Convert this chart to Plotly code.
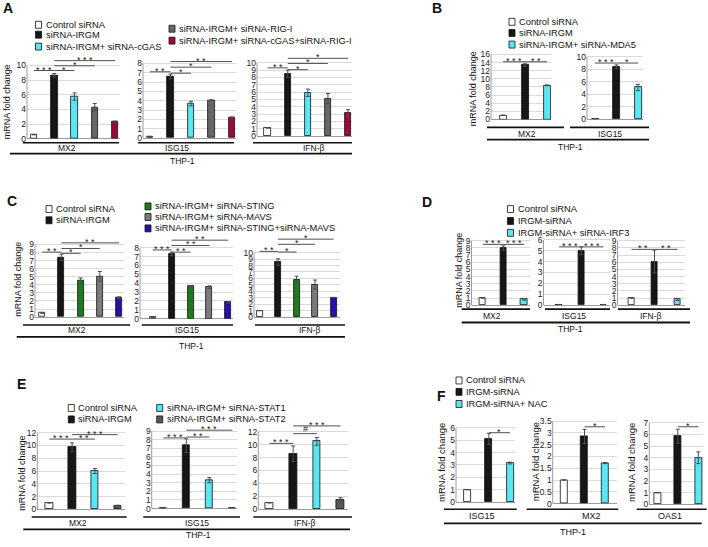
import plotly.graph_objects as go

W, H = 708, 547
FONT = "Arial, 'Liberation Sans', sans-serif"

WHITE, BLACK, CYAN = "#ffffff", "#161616", "#5ae6f3"
GREY, CRIMSON = "#666666", "#9c0b38"
GREEN, MGREY, INDIGO = "#1d7a1d", "#7b7b7b", "#2a0ea6"
DGREY = "#575757"

# ---------------- data ----------------
# A
A_labels = ["Control siRNA", "siRNA-IRGM", "siRNA-IRGM+ siRNA-cGAS",
            "siRNA-IRGM+ siRNA-RIG-I", "siRNA-IRGM+ siRNA-cGAS+siRNA-RIG-I"]
A_colors = [WHITE, BLACK, CYAN, GREY, CRIMSON]
A_genes = ["MX2", "ISG15", "IFN-β"]
A_mx2 = [0.55, 8.65, 5.75, 4.3, 2.35]
A_mx2_err = [0.02, 0.25, 0.5, 0.5, 0.05]
A_mx2_sig = [(0, 1, 9.3, "***"), (1, 2, 9.3, "*"), (1, 3, 9.95, "*"), (1, 4, 10.65, "***")]
A_isg = [0.1, 6.6, 3.7, 4.05, 2.2]
A_isg_err = [0.02, 0.25, 0.25, 0.05, 0.05]
A_isg_sig = [(0, 1, 7.1, "**"), (1, 2, 6.95, "*"), (1, 3, 7.6, "*"), (1, 4, 8.2, "**")]
A_ifn = [1.1, 8.5, 5.9, 5.1, 3.1]
A_ifn_err = [0.03, 0.5, 0.5, 0.7, 0.5]
A_ifn_sig = [(0, 1, 9.3, "**"), (1, 2, 9.05, "*"), (1, 3, 9.9, "*"), (1, 4, 10.6, "*")]

# B
B_labels = ["Control siRNA", "siRNA-IRGM", "siRNA-IRGM+ siRNA-MDA5"]
B_colors = [WHITE, BLACK, CYAN]
B_genes = ["MX2", "ISG15"]
B_mx2 = [1.0, 13.4, 8.4]
B_mx2_err = [0.05, 0.3, 0.1]
B_mx2_sig = [(0, 1, 14.2, "***"), (1, 2, 14.2, "**")]
B_isg = [0.1, 8.4, 5.1]
B_isg_err = [0.02, 0.3, 0.5]
B_isg_sig = [(0, 1, 9.0, "***"), (1, 2, 9.0, "*")]

# C
C_labels = ["Control siRNA", "siRNA-IRGM", "siRNA-IRGM+ siRNA-STING",
            "siRNA-IRGM+ siRNA-MAVS", "siRNA-IRGM+ siRNA-STING+siRNA-MAVS"]
C_colors = [WHITE, BLACK, GREEN, MGREY, INDIGO]
C_genes = ["MX2", "ISG15", "IFN-β"]
C_mx2 = [0.5, 7.4, 4.5, 5.05, 2.4]
C_mx2_err = [0.05, 0.4, 0.35, 0.6, 0.1]
C_mx2_sig = [(0, 1, 8.05, "**"), (1, 2, 7.9, "*"), (1, 3, 8.5, "*"), (1, 4, 9.2, "**")]
C_isg = [0.15, 7.3, 3.65, 3.55, 1.85]
C_isg_err = [0.02, 0.2, 0.1, 0.15, 0.07]
C_isg_sig = [(0, 1, 7.75, "***"), (1, 2, 7.5, "**"), (1, 3, 8.25, "**"), (1, 4, 8.85, "**")]
C_ifn = [1.0, 8.55, 5.85, 5.05, 3.05]
C_ifn_err = [0.02, 0.5, 0.5, 0.7, 0.02]
C_ifn_sig = [(0, 1, 10.2, "**"), (1, 2, 10.1, "*"), (1, 3, 11.3, "*"), (1, 4, 12.1, "*")]

# D
D_labels = ["Control siRNA", "IRGM-siRNA", "IRGM-siRNA+ siRNA-IRF3"]
D_colors = [WHITE, BLACK, CYAN]
D_genes = ["MX2", "ISG15", "IFN-β"]
D_mx2 = [1.0, 8.0, 0.8]
D_mx2_err = [0.02, 0.3, 0.1]
D_mx2_sig = [(0, 1, 8.5, "***"), (1, 2, 8.5, "***")]
D_isg = [0.05, 5.0, 0.05]
D_isg_err = [0.02, 0.35, 0.02]
D_isg_sig = [(0, 1, 5.35, "***"), (1, 2, 5.35, "***")]
D_ifn = [1.0, 6.1, 0.8]
D_ifn_err = [0.05, 1.6, 0.15]
D_ifn_sig = [(0, 1, 7.8, "**"), (1, 2, 7.8, "**")]

# E
E_labels = ["Control siRNA", "siRNA-IRGM", "siRNA-IRGM+ siRNA-STAT1", "siRNA-IRGM+ siRNA-STAT2"]
E_colors = [WHITE, BLACK, CYAN, DGREY]
E_genes = ["MX2", "ISG15", "IFN-β"]
E_mx2 = [1.0, 9.7, 6.0, 0.6]
E_mx2_err = [0.02, 0.7, 0.4, 0.05]
E_mx2_sig = [(0, 1, 11.0, "***"), (1, 2, 11.0, "**"), (1, 3, 11.7, "***")]
E_isg = [0.05, 7.3, 3.3, 0.05]
E_isg_err = [0.01, 0.8, 0.3, 0.01]
E_isg_sig = [(0, 1, 8.2, "***"), (1, 2, 8.3, "**"), (1, 3, 9.1, "***")]
E_ifn = [1.0, 8.6, 10.5, 1.5]
E_ifn_err = [0.02, 1.2, 0.6, 0.3]
E_ifn_sig = [(0, 1, 10.2, "***"), (1, 2, 11.7, "#"), (1, 3, 12.9, "***")]

# F
F_labels = ["Control siRNA", "IRGM-siRNA", "IRGM-siRNA+ NAC"]
F_colors = [WHITE, BLACK, CYAN]
F_genes = ["ISG15", "MX2", "OAS1"]
F_isg = [1.0, 5.1, 3.15]
F_isg_err = [0.0, 0.45, 0.07]
F_isg_sig = [(1, 2, 5.6, "*")]
F_mx2 = [1.0, 2.85, 1.72]
F_mx2_err = [0.0, 0.3, 0.02]
F_mx2_sig = [(1, 2, 3.26, "*")]
F_oas = [1.0, 5.85, 4.0]
F_oas_err = [0.0, 0.6, 0.5]
F_oas_sig = [(1, 2, 6.66, "*")]

CELL = "THP-1"
YTITLE = "mRNA fold change"

# ---------------- drawing ----------------
fig = go.Figure()
lay = {}
shapes, notes = [], []


def P(x):
    return x / W


def Q(y):
    return 1 - y / H


def text(s, x, y, size=8.5, anchor="center", bold=False, angle=0):
    notes.append(dict(text=f"<b>{s}</b>" if bold else s, x=P(x), y=Q(y), xref="paper", yref="paper",
                      xanchor=anchor, yanchor="middle", showarrow=False, textangle=angle,
                      font=dict(family=FONT, size=size, color="#111")))


def hline(x0, x1, y, w=1.6):
    shapes.append(dict(type="line", xref="paper", yref="paper", x0=P(x0), x1=P(x1),
                       y0=Q(y), y1=Q(y), line=dict(color="#111", width=w)))


def legend(labels, colors, bx, rows):
    for lab, col, y in zip(labels, colors, rows):
        shapes.append(dict(type="rect", xref="paper", yref="paper", x0=P(bx), x1=P(bx + 6),
                           y0=Q(y + 3.5), y1=Q(y - 3.5), fillcolor=col,
                           line=dict(color="#111", width=0.8)))
        text(lab, bx + 8, y, 9.3, "left")


n_ax = 0


def chart(vals, errs, colors, sig, top, step, box, bw):
    # box: plot left, plot right, first bar centre, last bar centre, y of 0, y of top tick (px)
    global n_ax
    n_ax += 1
    k = "" if n_ax == 1 else str(n_ax)
    xa, ya = "x" + k, "y" + k
    left, right, c0, c1, y0, ytop = box
    n = len(vals)
    u = (c1 - c0) / (n - 1)
    s = (y0 - ytop) / top
    dtop = ytop - 24
    ticks = [round(i * step, 2) for i in range(int(round(top / step)) + 1)]
    fig.add_trace(go.Bar(
        x=list(range(n)), y=vals, width=bw / u, xaxis=xa, yaxis=ya,
        marker=dict(color=colors, line=dict(color="#111", width=0.8)),
        error_y=dict(type="data", array=errs, color="#4d4d4d", thickness=1, width=2),
        showlegend=False, hoverinfo="skip"))
    lay["xaxis" + k] = dict(domain=[P(left), P(right)], anchor=ya, visible=False, fixedrange=True,
                            range=[(left - c0) / u, n - 1 + (right - c1) / u])
    lay["yaxis" + k] = dict(domain=[Q(y0), Q(dtop)], anchor=xa, range=[0, (y0 - dtop) / s],
                            tickmode="array", tickvals=ticks, ticktext=[f"{t:g}" for t in ticks],
                            showgrid=True, gridcolor="#dadada", gridwidth=1,
                            zeroline=True, zerolinecolor="#9c9c9c", zerolinewidth=1,
                            showline=False, ticks="", fixedrange=True,
                            tickfont=dict(family=FONT, size=8.5, color="#1a1a1a"))
    shapes.append(dict(type="line", xref=xa + " domain", yref=ya, x0=0, x1=0, y0=0, y1=top,
                       line=dict(color="#9c9c9c", width=1)))
    for a, b, h, mark in sig:
        shapes.append(dict(type="line", xref=xa, yref=ya, x0=a, x1=b, y0=h, y1=h,
                           line=dict(color="#505050", width=1)))
        hash_mark = mark == "#"
        notes.append(dict(text=" ".join(mark), x=(a + b) / 2, y=h, xref=xa, yref=ya, showarrow=False,
                          yanchor="bottom" if hash_mark else "middle", yshift=-2 if hash_mark else 1,
                          font=dict(family=FONT, size=9, color="#222")))


# Panel A
text("A", 7.5, 8.5, 14, bold=True)
legend(A_labels[:3], A_colors[:3], 35.5, [25, 35, 47])
legend(A_labels[3:], A_colors[3:], 169, [29, 41])
chart(A_mx2, A_mx2_err, A_colors, A_mx2_sig, 10, 2, (27, 120, 34, 115, 140, 66), 6.5)
chart(A_isg, A_isg_err, A_colors, A_isg_sig, 8, 1, (143, 236, 150, 232, 139.3, 64), 6.5)
chart(A_ifn, A_ifn_err, A_colors, A_ifn_sig, 10, 1, (257, 352, 267.7, 348, 137.3, 63.3), 6.5)
text(YTITLE, 7, 103.3, 9, angle=-90)
for (x0, x1), xt, g in zip([(23, 119), (138, 234), (253, 352)], [67, 177, 314], A_genes):
    hline(x0, x1, 144)
    text(g, xt, 149.5)
hline(10, 352, 155, 1.8)
text(CELL, 183, 162.5)

# Panel B
text("B", 436.5, 8, 14, bold=True)
legend(B_labels, B_colors, 509, [22, 33.3, 45])
chart(B_mx2, B_mx2_err, B_colors, B_mx2_sig, 16, 2, (491, 551, 503, 547, 120.5, 55), 7)
chart(B_isg, B_isg_err, B_colors, B_isg_sig, 10, 2, (587, 643, 595, 638, 120.5, 57.3), 7)
text(YTITLE, 473, 90, 9, angle=-90)
for (x0, x1), xt, g in zip([(487, 564), (570, 649)], [526.5, 610], B_genes):
    hline(x0, x1, 128.5)
    text(g, xt, 135.5)
hline(487, 649, 141, 1.8)
text(CELL, 570, 148.5)

# Panel C
text("C", 12, 203, 14, bold=True)
legend(C_labels[:2], C_colors[:2], 46, [211, 222.3])
legend(C_labels[2:], C_colors[2:], 145, [208.3, 219, 230.5])
chart(C_mx2, C_mx2_err, C_colors, C_mx2_sig, 9, 1, (35, 124, 42.3, 119, 320, 246.7), 6)
chart(C_isg, C_isg_err, C_colors, C_isg_sig, 8, 1, (140, 233.3, 152.7, 228.3, 321.7, 250), 6)
chart(C_ifn, C_ifn_err, C_colors, C_ifn_sig, 10, 1, (254, 340, 259.5, 333.5, 320, 255), 6)
text(YTITLE, 18.3, 282, 9, angle=-90)
for (x0, x1), xt, g in zip([(23, 130), (141.7, 233), (255, 345)], [76.7, 186.7, 310], C_genes):
    hline(x0, x1, 328)
    text(g, xt, 333.5)
hline(16.7, 345, 340, 1.8)
text(CELL, 191.7, 349.5)

# Panel D
text("D", 427, 204, 14, bold=True)
legend(D_labels, D_colors, 507.5, [211, 223, 235])
chart(D_mx2, D_mx2_err, D_colors, D_mx2_sig, 9, 1, (471.5, 530, 482.7, 524.2, 308, 243), 6.5)
chart(D_isg, D_isg_err, D_colors, D_isg_sig, 6, 1, (543.5, 610, 559, 603.5, 308, 242), 6.5)
chart(D_ifn, D_ifn_err, D_colors, D_ifn_sig, 9, 1, (617.5, 685, 631.5, 677.5, 308, 243), 6.5)
text(YTITLE, 458.3, 273, 9, angle=-90)
for (x0, x1), xt, g in zip([(461.7, 530), (545, 610), (618, 690)], [492, 574, 651], D_genes):
    hline(x0, x1, 312)
    text(g, xt, 319)
hline(461.7, 690, 325.5, 1.8)
text(CELL, 570, 332)

# Panel E
text("E", 21.3, 387.5, 14, bold=True)
legend(E_labels[:2], E_colors[:2], 68.3, [411.7, 423.3])
legend(E_labels[2:], E_colors[2:], 156.7, [411.7, 423.3])
chart(E_mx2, E_mx2_err, E_colors, E_mx2_sig, 12, 2, (37.3, 125, 49.3, 117.7, 514, 436.7), 7.5)
chart(E_isg, E_isg_err, E_colors, E_isg_sig, 9, 1, (151.7, 237, 163.3, 232.3, 513.3, 435), 7.5)
chart(E_ifn, E_ifn_err, E_colors, E_ifn_sig, 12, 2, (258.3, 348, 269.5, 340.5, 514, 435.7), 7.5)
text(YTITLE, 22, 478, 9, angle=-90)
for (x0, x1), xt, g in zip([(31.7, 126.7), (143.3, 240), (253.3, 352)], [78.3, 196.7, 305], E_genes):
    hline(x0, x1, 521.7)
    text(g, xt, 527.5)
hline(23.3, 350, 534.3, 1.8)
text(CELL, 198.3, 540)

# Panel F
text("F", 441.5, 399.5, 14, bold=True)
legend(F_labels, F_colors, 456, [384, 395.5, 407.7])
chart(F_isg, F_isg_err, F_colors, F_isg_sig, 6, 1, (456, 515, 467.7, 510, 506.7, 431.7), 7)
chart(F_mx2, F_mx2_err, F_colors, F_mx2_sig, 3.5, 0.5, (552.7, 616.7, 564, 605, 508.3, 425), 7)
chart(F_oas, F_oas_err, F_colors, F_oas_sig, 7, 1, (649.3, 703, 657.3, 698.3, 509, 426.7), 7)
for xt in [441.7, 535, 631.7]:
    text(YTITLE, xt, 466.5, 9.5, angle=-90)
for (x0, x1), xt, g in zip([(444, 516.7), (526.7, 618.3), (636.7, 706.7)], [481.7, 591.7, 670], F_genes):
    hline(x0, x1, 514)
    text(g, xt, 520.5, 9)
hline(444, 701.7, 528.3, 1.8)
text(CELL, 573.3, 536.5, 9)

fig.update_layout(width=W, height=H, margin=dict(l=0, r=0, t=0, b=0),
                  paper_bgcolor="white", plot_bgcolor="rgba(0,0,0,0)",
                  showlegend=False, bargap=0, shapes=shapes, annotations=notes,
                  font=dict(family=FONT), **lay)
fig.write_html("out.html", config={"displayModeBar": False},
               post_script="document.body.style.margin='0';")
